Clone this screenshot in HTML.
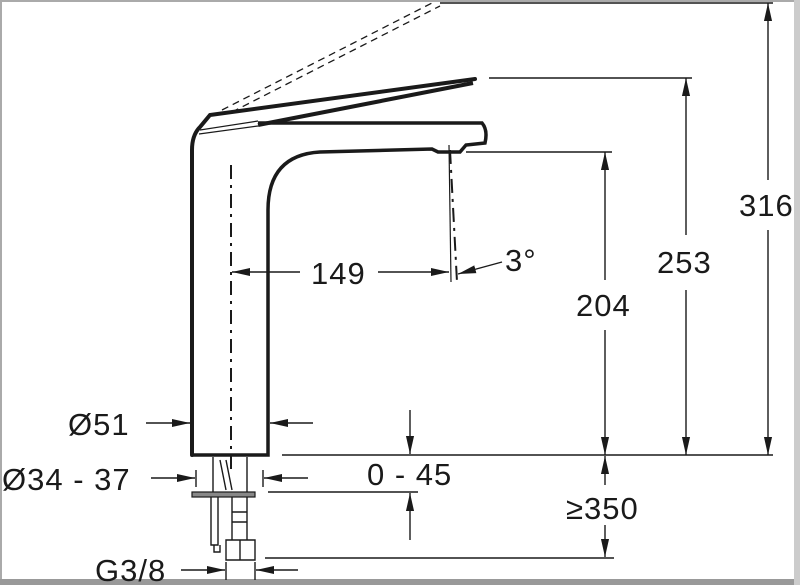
<!DOCTYPE html>
<html><head><meta charset="utf-8"><style>
html,body{margin:0;padding:0;background:#fff;}
svg{display:block}
text{font-family:"Liberation Sans",sans-serif;fill:#1a1a1a;letter-spacing:1px;}
</style></head><body>
<svg width="800" height="585" viewBox="0 0 800 585" xmlns="http://www.w3.org/2000/svg">
<defs>
<marker id="a" viewBox="0 0 20 10" refX="20" refY="5" markerWidth="18" markerHeight="9" markerUnits="userSpaceOnUse" orient="auto"><path d="M0,0.5 L20,5 L0,9.5 Z" fill="#1a1a1a"/></marker>
</defs>
<rect x="0" y="0" width="800" height="585" fill="#fff"/>
<rect x="0" y="0" width="800" height="2" fill="#aaa"/>
<rect x="0" y="0" width="2" height="585" fill="#aaa"/>
<rect x="0" y="579" width="800" height="6" fill="#999"/>
<rect x="794" y="0" width="6" height="585" fill="#ccc"/>

<g stroke="#1a1a1a" fill="none">
<path d="M192,455 L192,150 Q192,135 200,127 L210,115 L475,79" stroke-width="4" stroke-linecap="round"/>
<path d="M258,125 L473,83" stroke-width="4"/>
<path d="M200,130 L258,121 M199,134 L258,126" stroke-width="1.2"/>
<path d="M192,455 L268,455 L268,210 Q268,155 320,152 L432,149 L438,152 L460,152 L466,145 L485,143 Q488,130 482,123 L258,123" stroke-width="3.5"/>
<path d="M222,110 L432,3 M232,112 L440,6" stroke-width="1.3" stroke-dasharray="7,5"/>
<path d="M231,165 L231,470" stroke-width="2" stroke-dasharray="14,6,3,6"/>
<path d="M449,145 L451,282" stroke-width="1.2"/>
<path d="M450,150 L457,282" stroke-width="2" stroke-dasharray="14,6,3,6"/>
<g stroke-width="1.4">
<path d="M440,3 L773,3"/>
<path d="M489,78 L692,78"/>
<path d="M466,152 L612,152"/>
<path d="M282,455 L773,455"/>
<path d="M268,492 L418,492"/>
<path d="M265,558 L614,558"/>
<path d="M300,272 L232,272" marker-end="url(#a)"/>
<path d="M378,272 L449,272" marker-end="url(#a)"/>
<path d="M502,262 L458,274" marker-end="url(#a)"/>
<path d="M605,280 L605,152" marker-end="url(#a)"/>
<path d="M605,330 L605,455" marker-end="url(#a)"/>
<path d="M686,235 L686,78" marker-end="url(#a)"/>
<path d="M686,290 L686,455" marker-end="url(#a)"/>
<path d="M768,180 L768,3" marker-end="url(#a)"/>
<path d="M768,230 L768,455" marker-end="url(#a)"/>
<path d="M605,485 L605,456" marker-end="url(#a)"/>
<path d="M605,525 L605,557" marker-end="url(#a)"/>
<path d="M410,410 L410,454" marker-end="url(#a)"/>
<path d="M410,540 L410,493" marker-end="url(#a)"/>
<path d="M146,423 L190,423" marker-end="url(#a)"/>
<path d="M313,423 L270,423" marker-end="url(#a)"/>
<path d="M151,478 L195,478" marker-end="url(#a)"/>
<path d="M308,478 L264,478" marker-end="url(#a)"/>
<path d="M196,470 L196,487 M263,470 L263,487"/>
<path d="M181,570 L225,570" marker-end="url(#a)"/>
<path d="M298,570 L256,570" marker-end="url(#a)"/>
<path d="M226,562 L226,580 M255,562 L255,580"/>
<path d="M213,457 L213,492 M247,457 L247,492 M220,460 L226,490 M226,460 L232,490"/>
<path d="M211,497 L211,545 L218,545 L218,497 M214,545 L214,552 L220,552 L220,545"/>
<path d="M232,497 L232,540 M247,497 L247,540 M232,512 L247,512 M232,522 L247,522"/>
<path d="M226,540 L255,540 L255,560 L226,560 Z M240,540 L240,560"/>
</g>
<rect x="192" y="492" width="63" height="5" fill="#888" stroke="#1a1a1a" stroke-width="1.2"/>
</g>

<g font-size="31">
<text x="311" y="284">149</text>
<text x="505" y="271">3°</text>
<text x="576" y="316">204</text>
<text x="657" y="273">253</text>
<text x="739" y="216">316</text>
<text x="68" y="435">Ø51</text>
<text x="2" y="490">Ø34 - 37</text>
<text x="367" y="485">0 - 45</text>
<text x="566" y="519">≥350</text>
<text x="95" y="581">G3/8</text>
</g>
</svg>
</body></html>
